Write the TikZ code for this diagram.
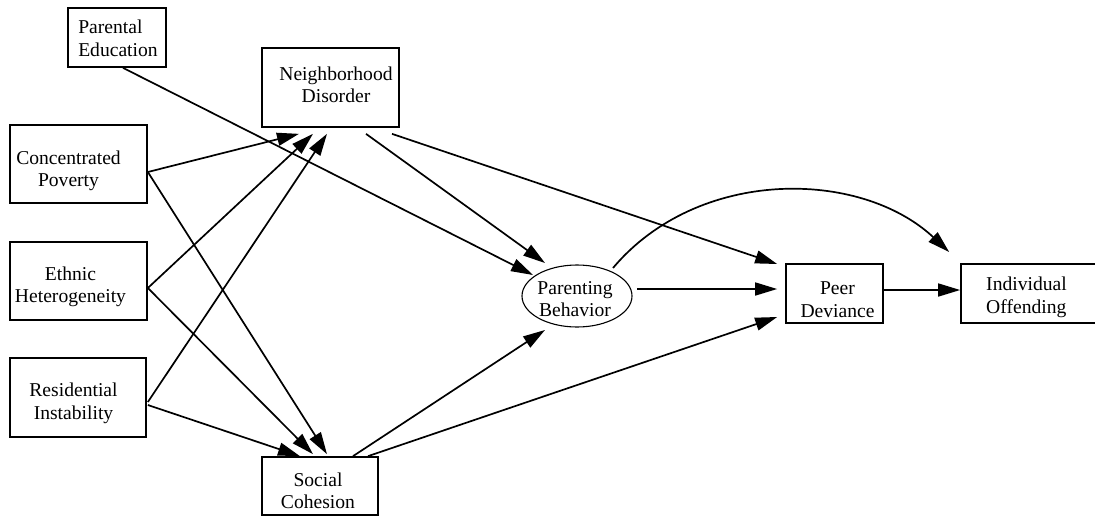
\documentclass[tikz,border=0pt]{standalone}
\usepackage{fontspec}
\setmainfont{Liberation Serif}
\usetikzlibrary{arrows.meta,shapes.geometric,calc}
\begin{document}
\begin{tikzpicture}[x=1pt,y=-1pt,
  box/.style={draw, line width=1.7pt, rectangle, inner sep=0pt},
  lab/.style={align=center, font=\fontsize{19.6}{22.5}\selectfont, inner sep=0pt},
  arr/.style={line width=1.7pt, -{Triangle[length=22pt,width=13pt]}},
]
\useasboundingbox (0,0) rectangle (1095,517);
\fill[white] (0,0) rectangle (1095,517);

% nodes
\node[box, minimum width=98pt, minimum height=59pt,
  label={[lab,align=left,xshift=1pt,yshift=-1pt]center:{Parental\\Education}}] (pe) at (117,37.5) {};
\node[box, minimum width=137pt, minimum height=79pt,
  label={[lab,xshift=5.5pt,yshift=2.5pt]center:{Neighborhood\\Disorder}}] (nd) at (330.5,87.5) {};
\node[box, minimum width=137pt, minimum height=78pt,
  label={[lab,xshift=-10pt,yshift=-7pt]center:{Concentrated\\Poverty}}] (cp) at (78.5,164) {};
\node[box, minimum width=137pt, minimum height=78pt,
  label={[lab,xshift=-8pt,yshift=-6pt]center:{Ethnic\\Heterogeneity}}] (eh) at (78.5,281) {};
\node[box, minimum width=136pt, minimum height=79pt,
  label={[lab,xshift=-4.5pt,yshift=-6pt]center:{Residential\\Instability}}] (ri) at (78,397.5) {};
\node[box, minimum width=116pt, minimum height=58pt,
  label={[lab,xshift=-2pt,yshift=-5pt]center:{Social\\Cohesion}}] (sc) at (320,486) {};
\node[draw, ellipse, line width=1.1pt, inner sep=0pt, minimum width=110pt, minimum height=62pt,
  label={[lab,xshift=-2pt,yshift=-3pt]center:{Parenting\\Behavior}}] (pb) at (577,296) {};
\node[box, minimum width=97pt, minimum height=59pt,
  label={[lab,xshift=3pt,yshift=-6pt]center:{Peer\\Deviance}}] (pd) at (834.5,293.5) {};
\node[box, minimum width=139pt, minimum height=59pt,
  label={[lab,align=left,xshift=-4pt,yshift=-4pt]center:{Individual\\Offending}}] (io) at (1030.5,293.5) {};

% connectors
\draw[arr] ($(cp.east)+(0,8)$) -- ($(nd.south)+(-31.5,6)$);
\draw[arr] ($(eh.east)+(0,7)$) -- ($(nd.south)+(-17.5,6)$);
\draw[arr] ($(ri.east)+(1,4.5)$) -- ($(nd.south)+(-3.5,6)$);
\draw[arr] ($(cp.east)+(0,8)$) -- ($(sc.north)+(7,-2)$);
\draw[arr] ($(eh.east)+(0,7)$) -- ($(sc.north)+(-7,-2)$);
\draw[arr] ($(ri.east)+(1,7.5)$) -- ($(sc.north)+(-20,0)$);
\draw[arr] ($(pe.south)+(6,0)$) -- ($(pb.center)+(-44,-21)$);
\draw[arr] ($(nd.south)+(35.5,6)$) -- ($(pb.center)+(-32,-33)$);
\draw[arr] ($(nd.south)+(61.5,6)$) -- ($(pd.west)+(-8,-29.5)$);
\draw[arr] ($(pb.center)+(60,-7)$) -- ($(pd.west)+(-8,-4.5)$);
\draw[arr] ($(sc.north)+(33,0)$) -- ($(pb.center)+(-32,34)$);
\draw[arr] ($(sc.north)+(48,0)$) -- ($(pd.west)+(-8,23.5)$);
\draw[arr] ($(pb.center)+(36,-28)$) .. controls +(85,-101) and +(-89,-83) .. ($(io.west)+(-11,-41.5)$);
\draw[arr] ($(pd.east)+(0,-3.5)$) -- ($(io.west)+(0,-3.5)$);
\end{tikzpicture}
\end{document}
